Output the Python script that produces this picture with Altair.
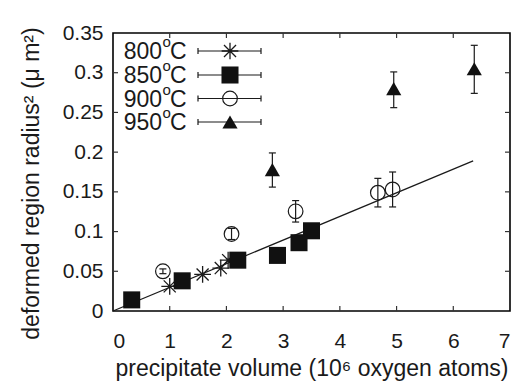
import altair as alt
import pandas as pd

# ---------------- data ----------------
X_TICKS = [0, 1, 2, 3, 4, 5, 6, 7]
Y_TICKS = [0, 0.05, 0.1, 0.15, 0.2, 0.25, 0.3, 0.35]

S800_X = [1.0, 1.58, 1.9, 2.03]
S800_Y = [0.031, 0.046, 0.054, 0.064]

S850_X = [0.33, 1.22, 2.2, 2.9, 3.28, 3.5]
S850_Y = [0.014, 0.038, 0.064, 0.070, 0.086, 0.101]

S900_X = [0.88, 2.09, 3.22, 4.67, 4.93]
S900_Y = [0.050, 0.097, 0.1255, 0.149, 0.153]
S900_LO = [0.047, 0.090, 0.112, 0.131, 0.131]
S900_HI = [0.053, 0.104, 0.139, 0.167, 0.175]

S950_X = [2.81, 4.95, 6.37]
S950_Y = [0.178, 0.280, 0.305]
S950_LO = [0.156, 0.256, 0.274]
S950_HI = [0.199, 0.301, 0.3345]

FIT_X = [0, 6.35]
FIT_Y = [0, 0.189]

LEGEND_NUM = ["800", "850", "900", "950"]

X_TITLE = "precipitate volume (10\u2076 oxygen atoms)"
Y_TITLE = "deformed region radius\u00b2 (\u03bc m\u00b2)"

# ---------------- layout ----------------
W, H = 397, 278
FONT = "Liberation Sans"
INK = "#1a1a1a"
ASTERISK = "M-1,0L1,0M0,-1L0,1M-0.72,-0.72L0.72,0.72M-0.72,0.72L0.72,-0.72"

xscale = alt.Scale(domain=[0, 7], nice=False, zero=False)
yscale = alt.Scale(domain=[0, 0.35], nice=False, zero=False)

xaxis = alt.Axis(values=X_TICKS, grid=False, domain=False, ticks=False,
                 labelFont=FONT, labelFontSize=21, labelColor=INK, labelPadding=19,
                 title=X_TITLE, titleFont=FONT, titleFontSize=23, titleFontWeight="normal",
                 titleColor=INK, titleY=64, titleBaseline="alphabetic")
yaxis = alt.Axis(values=Y_TICKS, grid=False, domain=False, ticks=False,
                 labelFont=FONT, labelFontSize=21, labelColor=INK, labelPadding=10,
                 labelExpr="format(datum.value, '~g')",
                 title=Y_TITLE, titleFont=FONT, titleFontSize=23, titleFontWeight="normal",
                 titleColor=INK, titleX=-75, titleY=150, titleAngle=270,
                 titleAlign="center", titleBaseline="alphabetic")


def X(field):
    return alt.X(field, type="quantitative", scale=xscale, axis=xaxis)


def Y(field):
    return alt.Y(field, type="quantitative", scale=yscale, axis=yaxis)


fit = alt.Chart(pd.DataFrame({"x": FIT_X, "y": FIT_Y})).mark_line(
    color=INK, strokeWidth=1.2).encode(x=X("x"), y=Y("y"))

d800 = pd.DataFrame({"x": S800_X, "y": S800_Y})
d850 = pd.DataFrame({"x": S850_X, "y": S850_Y})
d900 = pd.DataFrame({"x": S900_X, "y": S900_Y, "lo": S900_LO, "hi": S900_HI})
d950 = pd.DataFrame({"x": S950_X, "y": S950_Y, "lo": S950_LO, "hi": S950_HI})

p800 = alt.Chart(d800).mark_point(shape=ASTERISK, filled=False, stroke=INK,
                                  strokeWidth=1.3, size=280, opacity=1).encode(x=X("x"), y=Y("y"))
p850 = alt.Chart(d850).mark_point(shape="square", filled=True, color="#111",
                                  size=290, opacity=1).encode(x=X("x"), y=Y("y"))


def errbars(df):
    base = alt.Chart(df)
    bar = base.mark_rule(color=INK, strokeWidth=1.2).encode(x=X("x"), y=Y("lo"), y2="hi")
    c1 = base.mark_tick(orient="horizontal", size=7, thickness=1.2, color=INK,
                        opacity=1).encode(x=X("x"), y=Y("lo"))
    c2 = base.mark_tick(orient="horizontal", size=7, thickness=1.2, color=INK,
                        opacity=1).encode(x=X("x"), y=Y("hi"))
    return [bar, c1, c2]


p900 = alt.Chart(d900).mark_point(shape="circle", filled=False, stroke=INK,
                                  strokeWidth=1.2, size=215, opacity=1).encode(x=X("x"), y=Y("y"))
p950 = alt.Chart(d950).mark_point(shape="triangle-up", filled=True, color="#111",
                                  size=230, opacity=1).encode(x=X("x"), y=Y("y"))

# inward ticks on all four sides
dxt = pd.DataFrame({"v": X_TICKS[1:-1]})
dyt = pd.DataFrame({"v": Y_TICKS[1:-1]})
TK = 5
tick_layers = [
    alt.Chart(dxt).mark_rule(color="#333", strokeWidth=1.2).encode(
        x=X("v"), y=alt.value(H), y2=alt.value(H - TK)),
    alt.Chart(dxt).mark_rule(color="#333", strokeWidth=1.2).encode(
        x=X("v"), y=alt.value(0), y2=alt.value(TK)),
    alt.Chart(dyt).mark_rule(color="#333", strokeWidth=1.2).encode(
        y=Y("v"), x=alt.value(0), x2=alt.value(TK)),
    alt.Chart(dyt).mark_rule(color="#333", strokeWidth=1.2).encode(
        y=Y("v"), x=alt.value(W), x2=alt.value(W - TK)),
]

# legend (gnuplot style, top left inside the frame)
LEG_CY = [18, 42, 65.5, 89]
markers = [
    dict(shape=ASTERISK, filled=False, stroke=INK, strokeWidth=1.3, size=280, opacity=1),
    dict(shape="square", filled=True, color="#111", size=290, opacity=1),
    dict(shape="circle", filled=False, stroke=INK, strokeWidth=1.2, size=215, opacity=1),
    dict(shape="triangle-up", filled=True, color="#111", size=230, opacity=1),
]
legend_layers = []
for i, num in enumerate(LEGEND_NUM):
    cy = LEG_CY[i]
    src = alt.Chart(pd.DataFrame({"t": [num], "o": ["o"], "c": ["C"]}))
    legend_layers += [
        src.mark_text(align="right", baseline="alphabetic", font=FONT, fontSize=23,
                      color=INK).encode(text="t:N", x=alt.value(49), y=alt.value(cy + 8)),
        src.mark_text(align="left", baseline="alphabetic", font=FONT, fontSize=15,
                      color=INK).encode(text="o:N", x=alt.value(49.5), y=alt.value(cy - 4)),
        src.mark_text(align="left", baseline="alphabetic", font=FONT, fontSize=23,
                      color=INK).encode(text="c:N", x=alt.value(57), y=alt.value(cy + 8)),
        src.mark_rule(color=INK, strokeWidth=1.2).encode(
            x=alt.value(85), x2=alt.value(148), y=alt.value(cy)),
        src.mark_rule(color=INK, strokeWidth=1.2).encode(
            x=alt.value(85), y=alt.value(cy - 3), y2=alt.value(cy + 3)),
        src.mark_rule(color=INK, strokeWidth=1.2).encode(
            x=alt.value(148), y=alt.value(cy - 3), y2=alt.value(cy + 3)),
        src.mark_point(**markers[i]).encode(x=alt.value(117), y=alt.value(cy)),
    ]

chart = alt.layer(
    fit, *tick_layers, p800, p850, *errbars(d900), p900, *errbars(d950), p950, *legend_layers
).properties(
    width=W, height=H,
    autosize=alt.AutoSizeParams(type="none"),
    padding={"left": 113, "top": 33, "right": 10, "bottom": 75},
).configure_view(stroke="black", strokeWidth=1.6)

chart.save("out.html", embed_options={"renderer": "svg", "actions": False})
